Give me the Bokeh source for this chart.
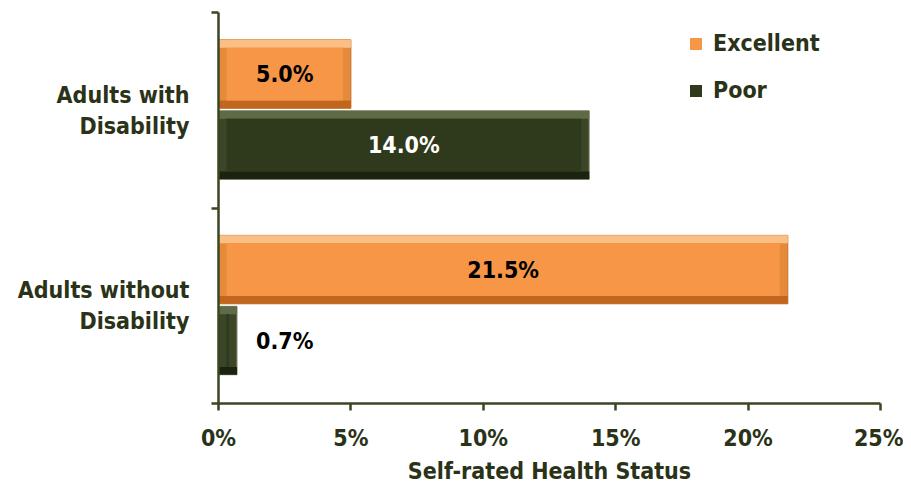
from bokeh.plotting import figure
from bokeh.models import Range1d, FixedTicker, Legend, LegendItem, ColumnDataSource, PrintfTickFormatter
from bokeh.core.properties import value
from bokeh.embed import file_html
from bokeh.resources import INLINE

# ---- data ----
groups = ["Adults without\nDisability", "Adults with\nDisability"]
excellent = [21.5, 5.0]
poor = [0.7, 14.0]
series_names = ["Excellent", "Poor"]
x_ticks = [0, 5, 10, 15, 20, 25]

FONT = "'DejaVu Sans Condensed', 'DejaVu Sans', sans-serif"
TXT = "#2a3317"
AXIS = "#3a4620"

cat_pos = [i + 0.5 for i in range(len(groups))]
H = 0.35
OFF = {"Excellent": 0.185, "Poor": -0.178}
STYLE = {
    "Excellent": dict(side="#e58a3b", top="#fbbf86", bot="#c0661f", face="#f79646", edge="#c8722c", txt="black"),
    "Poor": dict(side="#3b4628", top="#5f6b47", bot="#1b220f", face="#2e3a1b", edge="#8d957d", txt="white"),
}

p = figure(frame_width=662, frame_height=391, x_range=Range1d(0, 25), y_range=Range1d(0, 2),
           output_backend="svg", toolbar_location=None,
           min_border_left=218, min_border_right=23, min_border_top=12, min_border_bottom=80)
p.grid.visible = False
p.outline_line_color = None
p.background_fill_color = "white"

legend_items = []
for name, vals in zip(series_names, [excellent, poor]):
    st = STYLE[name]
    ys = [c + OFF[name] for c in cat_pos]
    src = ColumnDataSource(dict(
        y=ys, v=vals,
        ytop=[y + H / 2 - 0.02 for y in ys],
        ybot=[y - H / 2 + 0.02 for y in ys],
        fl=[0.3 for _ in vals],
        fr=[max(v - 0.3, 0.32) for v in vals],
    ))
    p.hbar(y="y", left=0, right="v", height=H, source=src, fill_color=st["side"],
           line_color=st["edge"], line_width=1)
    p.hbar(y="ytop", left=0, right="v", height=0.04, source=src, fill_color=st["top"], line_color=None)
    p.hbar(y="ybot", left=0, right="v", height=0.04, source=src, fill_color=st["bot"], line_color=None)
    face = p.hbar(y="y", left="fl", right="fr", height=H - 0.08, source=src,
                  fill_color=st["face"], line_color=None)
    legend_items.append(LegendItem(label=name, renderers=[face]))

    inside = [v >= 2 for v in vals]
    in_src = ColumnDataSource(dict(
        x=[v / 2 for v, i in zip(vals, inside) if i],
        y=[y for y, i in zip(ys, inside) if i],
        t=[f"{v:.1f}%" for v, i in zip(vals, inside) if i]))
    p.text(x="x", y="y", text="t", source=in_src, text_align="center", text_baseline="middle",
           text_font=value(FONT), text_font_style="bold", text_font_size="23px", text_color=st["txt"])
    out_src = ColumnDataSource(dict(
        x=[v for v, i in zip(vals, inside) if not i],
        y=[y for y, i in zip(ys, inside) if not i],
        t=[f"{v:.1f}%" for v, i in zip(vals, inside) if not i]))
    p.text(x="x", y="y", text="t", source=out_src, text_align="left", text_baseline="middle",
           x_offset=19, text_font=value(FONT), text_font_style="bold", text_font_size="23px",
           text_color="black")

legend = Legend(items=legend_items, location=(470, 300), border_line_color=None,
                background_fill_alpha=0, padding=0, margin=0, spacing=21,
                glyph_width=15, glyph_height=15, label_standoff=10,
                label_text_font=FONT, label_text_font_style="bold",
                label_text_font_size="23px", label_text_color=TXT)
p.add_layout(legend, "center")

xa = p.xaxis[0]
xa.ticker = FixedTicker(ticks=x_ticks, minor_ticks=[])
xa.formatter = PrintfTickFormatter(format="%d%%")
xa.axis_line_color = AXIS
xa.axis_line_width = 2.5
xa.major_tick_line_color = AXIS
xa.major_tick_line_width = 2.5
xa.major_tick_out = 7
xa.major_tick_in = 0
xa.minor_tick_line_color = None
xa.major_label_standoff = 14
xa.major_label_text_font = FONT
xa.major_label_text_font_style = "bold"
xa.major_label_text_font_size = "23px"
xa.major_label_text_color = TXT
xa.axis_label = "Self-rated Health Status"
xa.axis_label_text_font = FONT
xa.axis_label_text_font_style = "bold"
xa.axis_label_text_font_size = "23px"
xa.axis_label_text_color = TXT
xa.axis_label_standoff = 4

ya = p.yaxis[0]
ya.ticker = FixedTicker(ticks=cat_pos, minor_ticks=[0, 1, 2])
ya.major_label_overrides = {c: g for c, g in zip(cat_pos, groups)}
ya.axis_line_color = AXIS
ya.axis_line_width = 2.5
ya.major_tick_line_color = None
ya.minor_tick_line_color = AXIS
ya.minor_tick_line_width = 2.5
ya.minor_tick_out = 7
ya.minor_tick_in = 0
ya.major_label_standoff = 22
ya.major_label_text_font = FONT
ya.major_label_text_font_style = "bold"
ya.major_label_text_font_size = "23px"
ya.major_label_text_color = TXT

open("out.html", "w").write(file_html(p, INLINE))
